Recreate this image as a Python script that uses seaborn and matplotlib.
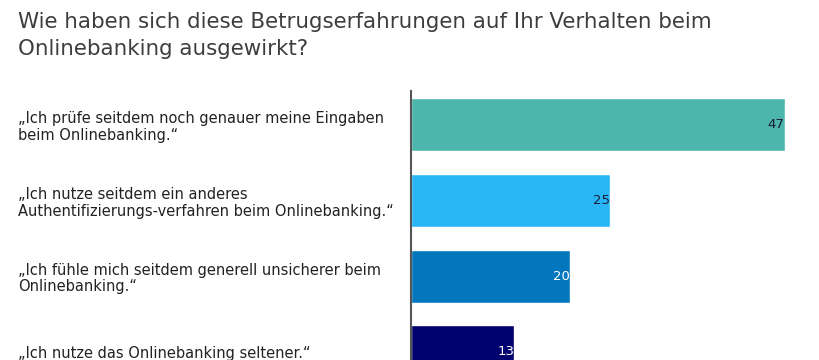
import matplotlib
matplotlib.use("Agg")
import matplotlib.pyplot as plt
import seaborn as sns
import pandas as pd

categories = [
    "„Ich prüfe seitdem noch genauer meine Eingaben\nbeim Onlinebanking.“",
    "„Ich nutze seitdem ein anderes\nAuthentifizierungs-verfahren beim Onlinebanking.“",
    "„Ich fühle mich seitdem generell unsicherer beim\nOnlinebanking.“",
    "„Ich nutze das Onlinebanking seltener.“",
]
values = [47, 25, 20, 13]
colors = ["#4DB6AC", "#29B6F6", "#0277BD", "#01016F"]
label_colors = ["#1c1c3a", "#1c1c3a", "#ffffff", "#ffffff"]
title_lines = ["Wie haben sich diese Betrugserfahrungen auf Ihr Verhalten beim",
               "Onlinebanking ausgewirkt?"]

sns.set_theme(style="white")
plt.rcParams["font.family"] = ["DejaVu Sans"]

W, H = 820, 360
fig = plt.figure(figsize=(W / 100, H / 100), dpi=100)
ax_left, ax_top = 411, 91
ax = fig.add_axes([ax_left / W, 0, (W - ax_left) / W, (H - ax_top) / H])

df = pd.DataFrame({"cat": categories, "val": values})
sns.barplot(data=df, x="val", y="cat", hue="cat", palette=colors, legend=False,
            orient="h", width=0.7, ax=ax, saturation=1)

ax.set_xlim(0, (W - ax_left) / 7.96)
ax.set_ylim(3.106, -0.44)
ax.set_xlabel("")
ax.set_ylabel("")
ax.set_xticks([])
for s in ["top", "right", "bottom"]:
    ax.spines[s].set_visible(False)
ax.spines["left"].set_color("#555555")
ax.spines["left"].set_linewidth(1.5)

ax.tick_params(axis="y", length=0, pad=(ax_left - 18) * 0.72)
for lab in ax.get_yticklabels():
    lab.set_horizontalalignment("left")
    lab.set_fontsize(10.5)
    lab.set_color("#222222")
    lab.set_linespacing(1.15)

for i, (v, c) in enumerate(zip(values, label_colors)):
    ax.text(v - 0.05, i, str(v), ha="right", va="center", fontsize=9.5,
            color=c)

for k, line in enumerate(title_lines):
    fig.text(18 / W, 1 - (28 + 27 * k) / H, line, ha="left", va="baseline",
             fontsize=15.4, color="#3d3d3d")

fig.savefig("out.png", dpi=100)
